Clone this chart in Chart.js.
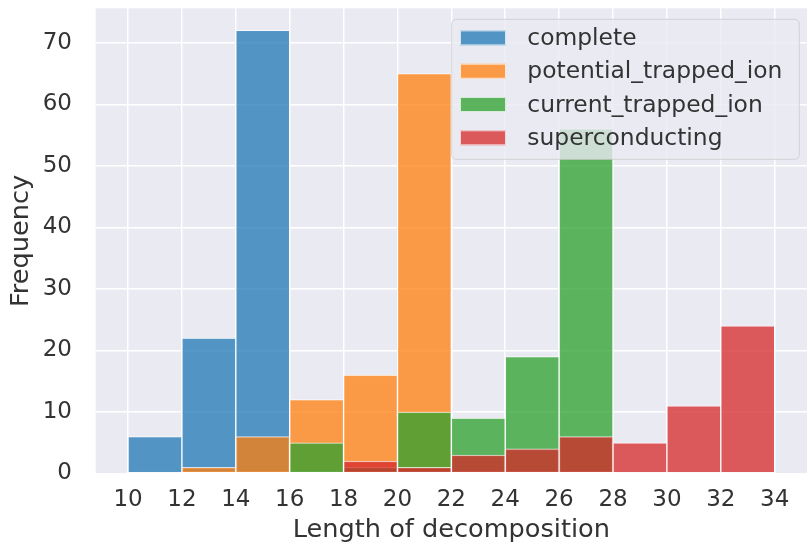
<!DOCTYPE html>
<html>
<head>
<meta charset="utf-8">
<script src="https://cdn.jsdelivr.net/npm/chart.js@4.4.1/dist/chart.umd.min.js"></script>
<style>
  html, body { margin: 0; padding: 0; background: #ffffff; }
  #wrap { width: 807px; height: 543px; position: relative; }
  canvas { display: block; }
</style>
</head>
<body>
<div id="wrap"><canvas id="chart" width="807" height="543"></canvas></div>
<script>
// ---- data (bins of width 2) ----
const binStarts = [10, 12, 14, 16, 18, 20, 22, 24, 26, 28, 30, 32];
const binWidth = 2;
const seriesNames = ['complete', 'potential_trapped_ion', 'current_trapped_ion', 'superconducting'];
const complete            = [6, 22, 72, 0, 0, 0, 0, 0, 0, 0, 0, 0];
const potentialTrappedIon = [0, 1, 6, 12, 16, 65, 0, 0, 0, 0, 0, 0];
const currentTrappedIon   = [0, 0, 0, 5, 1, 10, 9, 19, 56, 0, 0, 0];
const superconducting     = [0, 0, 0, 0, 2, 1, 3, 4, 6, 5, 11, 24];
const xTickValues = [10, 12, 14, 16, 18, 20, 22, 24, 26, 28, 30, 32, 34];
const yTickValues = [0, 10, 20, 30, 40, 50, 60, 70];
const xTitle = 'Length of decomposition';
const yTitle = 'Frequency';

// ---- styling ----
const baseColors = ['31,119,180', '255,127,14', '44,160,44', '214,39,40'];
const ALPHA = 0.75;
const FONT = "'DejaVu Sans', sans-serif";
const TEXT = '#333333';

const seriesValues = [complete, potentialTrappedIon, currentTrappedIon, superconducting];

function toPoints(values) {
  const pts = [];
  values.forEach((v, i) => {
    if (v > 0) pts.push({ x: binStarts[i] + binWidth / 2, y: v });
  });
  return pts;
}

const datasets = seriesNames.map((name, i) => ({
  label: name,
  data: toPoints(seriesValues[i]),
  backgroundColor: 'rgba(' + baseColors[i] + ',' + ALPHA + ')',
  borderColor: 'rgba(255,255,255,' + ALPHA + ')',
  borderWidth: 1,
  borderSkipped: false,
  barPercentage: 1,
  categoryPercentage: 1,
  grouped: false,
  order: seriesNames.length - 1 - i  // later series drawn on top
}));

const PLOT_TOP = 8.3;
const PLOT_LEFT = 95.7;
const PLOT_BOTTOM = 473.5;

const bgPlugin = {
  id: 'plotBg',
  beforeDraw(chart) {
    const { ctx, chartArea: a } = chart;
    ctx.save();
    ctx.fillStyle = '#eaeaf2';
    ctx.fillRect(a.left, a.top, a.right - a.left, a.bottom - a.top);
    ctx.restore();
  }
};

const legendPlugin = {
  id: 'boxLegend',
  afterDraw(chart) {
    const { ctx, chartArea: a } = chart;
    const boxRight = a.right - 7.7;
    const boxTop = a.top + 11;
    const boxW = 347.6, boxH = 140;
    const boxLeft = boxRight - boxW;
    ctx.save();
    const r = 5;
    ctx.beginPath();
    ctx.moveTo(boxLeft + r, boxTop);
    ctx.lineTo(boxRight - r, boxTop);
    ctx.quadraticCurveTo(boxRight, boxTop, boxRight, boxTop + r);
    ctx.lineTo(boxRight, boxTop + boxH - r);
    ctx.quadraticCurveTo(boxRight, boxTop + boxH, boxRight - r, boxTop + boxH);
    ctx.lineTo(boxLeft + r, boxTop + boxH);
    ctx.quadraticCurveTo(boxLeft, boxTop + boxH, boxLeft, boxTop + boxH - r);
    ctx.lineTo(boxLeft, boxTop + r);
    ctx.quadraticCurveTo(boxLeft, boxTop, boxLeft + r, boxTop);
    ctx.closePath();
    ctx.fillStyle = 'rgba(234,234,242,0.8)';
    ctx.fill();
    ctx.strokeStyle = 'rgba(204,204,204,0.8)';
    ctx.lineWidth = 1;
    ctx.stroke();
    ctx.font = '23.4px ' + FONT;
    ctx.textBaseline = 'middle';
    ctx.textAlign = 'left';
    chart.data.datasets.forEach((ds, i) => {
      const cy = boxTop + 18.6 + i * 33.3;
      const px = boxLeft + 8.3;
      ctx.fillStyle = ds.backgroundColor;
      ctx.fillRect(px, cy - 7.5, 46, 15);
      ctx.strokeStyle = 'rgba(255,255,255,0.75)';
      ctx.lineWidth = 1;
      ctx.strokeRect(px + 0.5, cy - 7, 45, 14);
      ctx.fillStyle = TEXT;
      ctx.fillText(ds.label, boxLeft + 75.6, cy + 1);
    });
    ctx.restore();
  }
};

new Chart(document.getElementById('chart'), {
  type: 'bar',
  data: { datasets },
  options: {
    responsive: false,
    animation: false,
    devicePixelRatio: 1,
    layout: { padding: { top: PLOT_TOP, left: 0, right: 0, bottom: 0 } },
    plugins: {
      legend: { display: false },
      tooltip: { enabled: false }
    },
    scales: {
      x: {
        type: 'linear',
        min: 8.8,
        max: 35.2,
        offset: false,
        afterFit(scale) {
          scale.height = 543 - PLOT_BOTTOM;
          scale.paddingLeft = 0; scale.paddingRight = 0;
          scale.paddingTop = 0; scale.paddingBottom = 0;
        },
        afterBuildTicks(scale) { scale.ticks = xTickValues.map(v => ({ value: v })); },
        grid: { color: '#ffffff', lineWidth: 1.5, drawTicks: false, offset: false },
        border: { display: false },
        ticks: {
          includeBounds: false,
          autoSkip: false,
          maxRotation: 0,
          padding: 13,
          color: TEXT,
          font: { family: FONT, size: 23 },
          callback: v => String(v)
        },
        title: {
          display: true,
          text: xTitle,
          color: TEXT,
          font: { family: FONT, size: 25.6, lineHeight: 1 },
          padding: { top: 0, bottom: 0 }
        }
      },
      y: {
        type: 'linear',
        min: 0,
        max: 75.6,
        afterFit(scale) {
          scale.width = PLOT_LEFT;
          scale.paddingTop = 0; scale.paddingBottom = 0;
          scale.paddingLeft = 0; scale.paddingRight = 0;
        },
        afterBuildTicks(scale) { scale.ticks = yTickValues.map(v => ({ value: v })); },
        grid: { color: '#ffffff', lineWidth: 1.5, drawTicks: false, offset: false },
        border: { display: false },
        ticks: {
          includeBounds: false,
          padding: 23.7,
          color: TEXT,
          font: { family: FONT, size: 23 },
          callback: v => String(v)
        },
        title: {
          display: true,
          text: yTitle,
          color: TEXT,
          font: { family: FONT, size: 25.6, lineHeight: 1 },
          padding: { top: 8.6, bottom: 0 }
        }
      }
    }
  },
  plugins: [bgPlugin, legendPlugin]
});
</script>
</body>
</html>
